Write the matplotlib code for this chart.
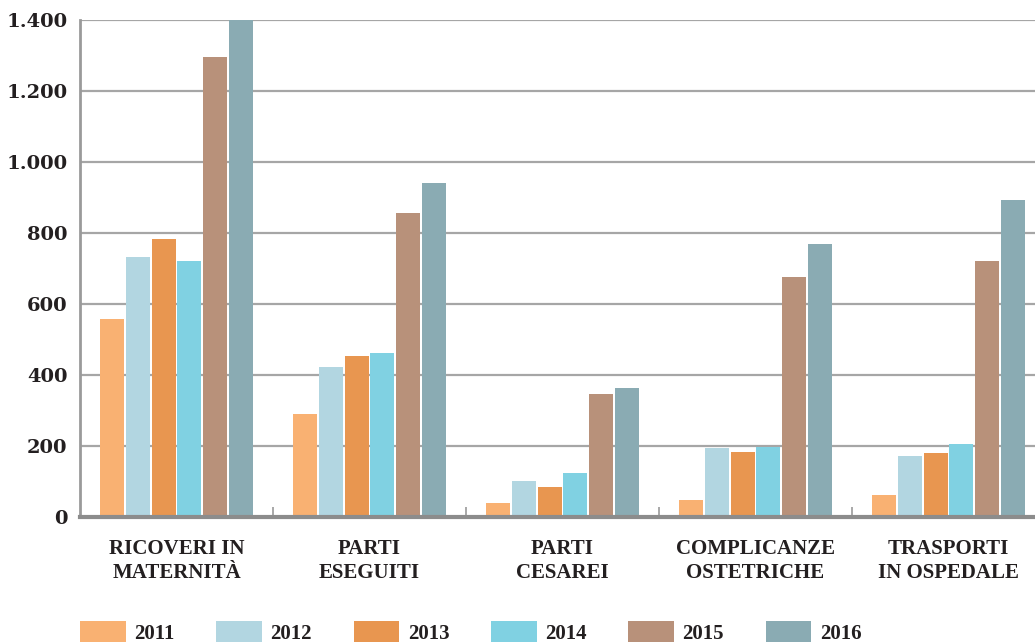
import matplotlib.pyplot as plt
import numpy as np

categories = ["RICOVERI IN\nMATERNITÀ", "PARTI\nESEGUITI", "PARTI\nCESAREI",
              "COMPLICANZE\nOSTETRICHE", "TRASPORTI\nIN OSPEDALE"]
years = ["2011", "2012", "2013", "2014", "2015", "2016"]

v2011 = [557, 290, 39, 49, 61]
v2012 = [732, 423, 102, 194, 172]
v2013 = [783, 454, 85, 183, 180]
v2014 = [721, 462, 124, 197, 206]
v2015 = [1296, 856, 346, 676, 721]
v2016 = [1400, 941, 363, 769, 893]

series = [v2011, v2012, v2013, v2014, v2015, v2016]
colors = ["#F9B172", "#B2D6E1", "#E89650", "#80D1E2", "#B8917A", "#8AABB3"]

plt.rcParams["font.family"] = ["Liberation Serif", "DejaVu Serif"]
plt.rcParams["font.weight"] = "bold"
text_color = "#231F20"

fig = plt.figure(figsize=(10.35, 6.42), dpi=100)
ax = fig.add_axes([80 / 1035, 1 - 517 / 642, 1 - 80 / 1035, 497 / 642])

x = np.arange(len(categories))
step = 0.134
width = 0.124
for i, (vals, color, year) in enumerate(zip(series, colors, years)):
    ax.bar(x + (i - 2.5) * step, vals, width, color=color, label=year, zorder=3)

# axes limits and grid
ax.set_xlim(-0.5, 4.448)
ax.set_ylim(0, 1400)
ax.set_yticks(range(0, 1401, 200))
ax.set_yticklabels([f"{v:,}".replace(",", ".") for v in range(0, 1401, 200)],
                   fontsize=14, color=text_color, fontweight="bold",
                   family="DejaVu Serif")
ax.yaxis.grid(True, color="#A6A6A6", linewidth=1.6, zorder=0)
ax.tick_params(axis="y", length=0, pad=9)

ax.set_xticks(x)
ax.set_xticklabels(categories, fontsize=15, color=text_color,
                   fontweight="bold", linespacing=1.25)
ax.tick_params(axis="x", which="major", length=0, pad=16)
ax.set_xticks(x[:-1] + 0.5, minor=True)
ax.tick_params(axis="x", which="minor", direction="in", length=7.5,
               width=1.2, color="#9A9A9A")

for side in ["top", "right"]:
    ax.spines[side].set_visible(False)
ax.spines["left"].set_color("#9A9A9A")
ax.spines["left"].set_linewidth(2)
ax.spines["bottom"].set_color("#8C8C8C")
ax.spines["bottom"].set_linewidth(3)
ax.spines["bottom"].set_zorder(4)

# legend along the bottom edge
fig.legend(loc="upper left", bbox_to_anchor=(80 / 1035, 1 - 621 / 642),
           ncol=6, frameon=False, handlelength=2.2,
           handleheight=1.3, handletextpad=0.4, columnspacing=2.0,
           borderpad=0, borderaxespad=0,
           prop={"weight": "bold", "size": 15, "family": "Liberation Serif"})
for t in fig.legends[0].get_texts():
    t.set_color(text_color)

fig.savefig("out.png", dpi=100)
